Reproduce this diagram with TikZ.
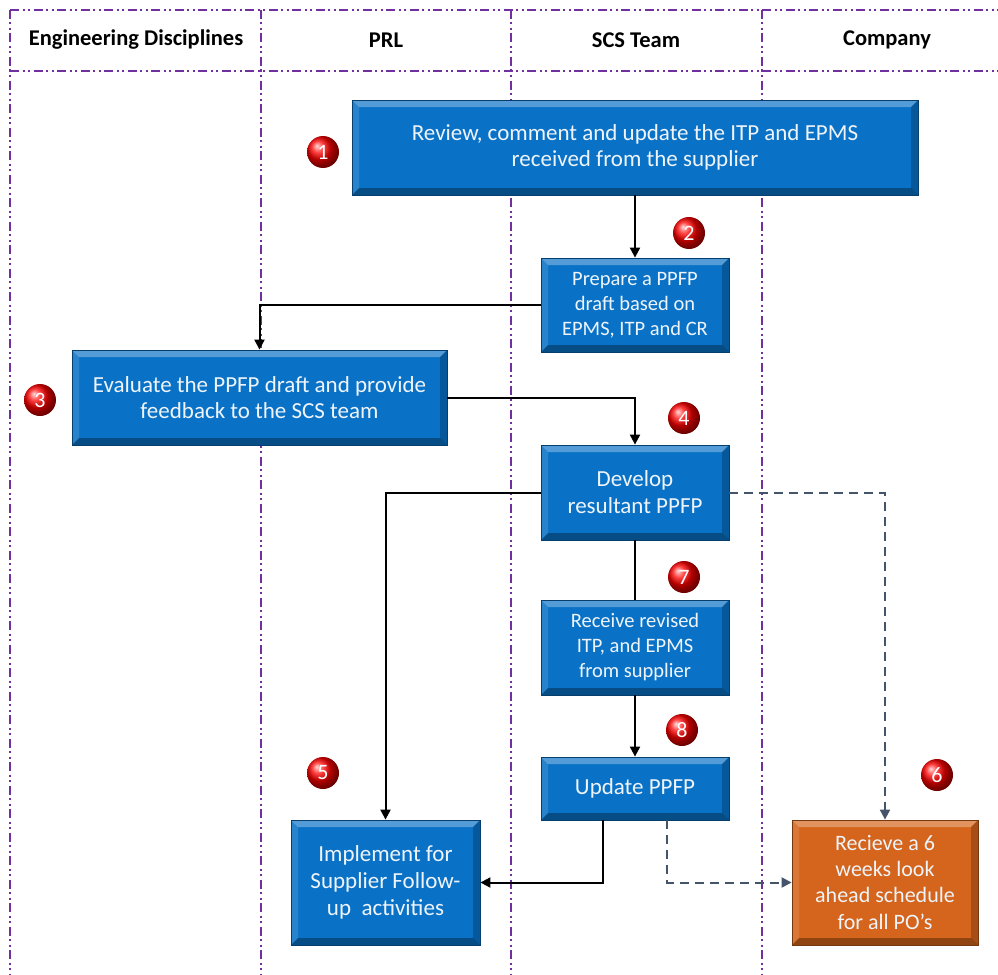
\documentclass[tikz,border=0pt]{standalone}
\usepackage{fontspec}
\setmainfont{Carlito}
\usetikzlibrary{arrows.meta,calc,shadings}

\definecolor{lane}{HTML}{7030A0}
\definecolor{boxblue}{HTML}{0A72C6}
\definecolor{boxorange}{HTML}{D5651C}
\definecolor{dashgray}{HTML}{44546A}
\definecolor{boxtext}{HTML}{EEF4FA}

\tikzset{
  lanestyle/.style={draw=lane, line width=2.6pt,
    dash pattern=on 9pt off 3.5pt on 2pt off 3.5pt on 2pt off 3.5pt},
  bevelbox/.style={rectangle, fill=#1, draw=#1!55!black, line width=0.8pt,
    inner sep=2pt, align=center, text=boxtext,
    path picture={
      \path (path picture bounding box.north west) coordinate (pNW)
            (path picture bounding box.north east) coordinate (pNE)
            (path picture bounding box.south west) coordinate (pSW)
            (path picture bounding box.south east) coordinate (pSE);
      \fill[white,opacity=.30] (pNW) -- (pNE) -- ([shift={(-7,7)}]pNE) -- ([shift={(7,7)}]pNW) -- cycle;
      \fill[white,opacity=.12] (pNW) -- ([shift={(7,7)}]pNW) -- ([shift={(7,-7)}]pSW) -- (pSW) -- cycle;
      \fill[black,opacity=.22] (pNE) -- (pSE) -- ([shift={(-7,-7)}]pSE) -- ([shift={(-7,7)}]pNE) -- cycle;
      \fill[black,opacity=.32] (pSW) -- (pSE) -- ([shift={(-7,-7)}]pSE) -- ([shift={(7,-7)}]pSW) -- cycle;
    }},
  header/.style={font=\fontsize{22.5}{26}\selectfont\bfseries, text=black},
  badge/.style={circle, minimum size=32pt, inner sep=0pt, shading=ball,
    ball color=red, text=white, font=\fontsize{22}{22}\selectfont},
  flow/.style={draw=black, line width=2pt, -{Triangle[length=10pt,width=10pt]}},
  plainflow/.style={draw=black, line width=2pt},
  dashflow/.style={draw=dashgray, line width=2pt, dash pattern=on 9pt off 6pt,
    -{Triangle[length=10pt,width=10pt]}},
}

\begin{document}
\begin{tikzpicture}[x=1pt,y=-1pt]
  \useasboundingbox (0,0) rectangle (998,974);

  % swim-lane grid
  \draw[lanestyle] (10,10) -- (998,10);
  \draw[lanestyle] (10,71) -- (998,71);
  \foreach \lx in {10,261,511,762}
    \draw[lanestyle] (\lx,10) -- (\lx,974);

  % lane headers
  \node[header] (hED)  at (136,40) {Engineering Disciplines};
  \node[header] (hPRL) at (386,40) {PRL};
  \node[header] (hSCS) at (636,40) {SCS Team};
  \node[header] (hCo)  at (887,40) {Company};

  % process steps
  \node[bevelbox=boxblue, minimum width=566pt, minimum height=95pt,
        font=\fontsize{23}{26}\selectfont] (b1) at (635,147.5)
        {Review, comment and update the ITP and EPMS\\received from the supplier};
  \node[bevelbox=boxblue, minimum width=188pt, minimum height=94pt,
        font=\fontsize{20.5}{25}\selectfont] (b2) at (635,305)
        {Prepare a PPFP\\draft based on\\EPMS, ITP and CR};
  \node[bevelbox=boxblue, minimum width=375pt, minimum height=95pt,
        font=\fontsize{23}{26}\selectfont] (b3) at (259.5,397.5)
        {Evaluate the PPFP draft and provide\\feedback to the SCS team};
  \node[bevelbox=boxblue, minimum width=188pt, minimum height=95pt,
        font=\fontsize{23}{27}\selectfont] (b4) at (635,492.5)
        {Develop\\resultant PPFP};
  \node[bevelbox=boxblue, minimum width=188pt, minimum height=95pt,
        font=\fontsize{20.5}{25}\selectfont] (b7) at (635,647.5)
        {Receive revised\\ITP, and EPMS\\from supplier};
  \node[bevelbox=boxblue, minimum width=188pt, minimum height=63pt,
        font=\fontsize{23}{26}\selectfont] (b8) at (635,788.5)
        {Update PPFP};
  \node[bevelbox=boxblue, minimum width=189pt, minimum height=125pt,
        font=\fontsize{23}{27}\selectfont] (b5) at (385.5,882.5)
        {Implement for\\Supplier Follow-\\up\ \ activities};
  \node[bevelbox=boxorange, minimum width=186pt, minimum height=125pt,
        font=\fontsize{22}{26}\selectfont] (b6) at (885,882.5)
        {Recieve a 6\\weeks look\\ahead schedule\\for all PO's};

  % step numbers
  \node[badge] (n1) at (323,152) {1};
  \node[badge] (n2) at (689,233) {2};
  \node[badge] (n3) at (40,400)  {3};
  \node[badge] (n4) at (684,418) {4};
  \node[badge] (n7) at (684,577) {7};
  \node[badge] (n8) at (682,730) {8};
  \node[badge] (n5) at (323,773) {5};
  \node[badge] (n6) at (937,775) {6};

  % connectors
  \draw[flow] (b1.south) -- (b2.north);
  \draw[flow] (b2.west) -| (b3.north);
  \draw[flow] (b3.east) -| (b4.north);
  \draw[flow] (b4.west) -| (b5.north);
  \draw[plainflow] (b4.south) -- (b7.north);
  \draw[flow] (b7.south) -- (b8.north);
  \draw[flow] ([xshift=-32pt]b8.south) |- (b5.east);
  \draw[dashflow] ([xshift=32pt]b8.south) |- (b6.west);
  \draw[dashflow] (b4.east) -| (b6.north);
\end{tikzpicture}
\end{document}
